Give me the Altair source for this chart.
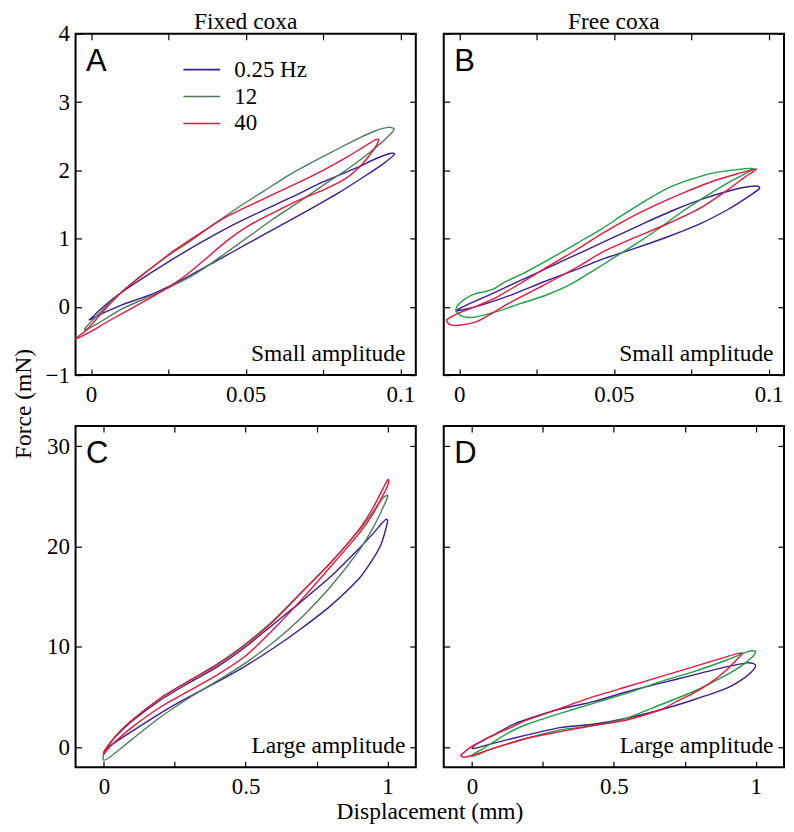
import altair as alt
import pandas as pd

SERIES = ["0.25 Hz", "12", "40"]
BLUE = "#3c1e8c"
GREEN_DULL = "#4d7d5d"
GREEN_BRIGHT = "#1f9e45"
RED = "#e6173c"

# ---------------- Panel A: fixed coxa, small amplitude ----------------
A_BLUE_X = [-0.0005, 0.004, 0.010, 0.020, 0.030, 0.040, 0.050, 0.060, 0.070, 0.080, 0.088, 0.094, 0.098,
            0.097, 0.092, 0.085, 0.075, 0.065, 0.055, 0.045, 0.035, 0.025, 0.015, 0.008, 0.003, 0.0005]
A_BLUE_Y = [-0.19, -0.09, 0.03, 0.19, 0.41, 0.66, 0.91, 1.16, 1.41, 1.67, 1.90, 2.08, 2.23,
            2.25, 2.17, 2.02, 1.83, 1.61, 1.40, 1.18, 0.93, 0.66, 0.37, 0.15, -0.04, -0.15]
A_GREEN_X = [-0.002, 0.002, 0.010, 0.020, 0.027, 0.035, 0.043, 0.051, 0.059, 0.067, 0.075, 0.083, 0.089, 0.094, 0.097,
             0.098, 0.096, 0.092, 0.087, 0.080, 0.072, 0.064, 0.056, 0.048, 0.040, 0.032, 0.024, 0.016, 0.009, 0.003, -0.001]
A_GREEN_Y = [-0.34, -0.25, -0.03, 0.17, 0.32, 0.52, 0.77, 1.03, 1.29, 1.53, 1.78, 2.02, 2.22, 2.41, 2.54,
             2.61, 2.63, 2.58, 2.48, 2.32, 2.13, 1.93, 1.70, 1.47, 1.22, 0.96, 0.72, 0.45, 0.18, -0.08, -0.27]
A_RED_X = [-0.005, 0.000, 0.006, 0.016, 0.023, 0.030, 0.037, 0.044, 0.051, 0.059, 0.067, 0.075, 0.082, 0.087, 0.091, 0.093,
           0.092, 0.088, 0.083, 0.075, 0.067, 0.059, 0.051, 0.043, 0.035, 0.027, 0.019, 0.011, 0.004, -0.001]
A_RED_Y = [-0.47, -0.36, -0.20, 0.05, 0.23, 0.44, 0.70, 0.97, 1.19, 1.38, 1.56, 1.71, 1.87, 2.06, 2.28, 2.44,
           2.45, 2.34, 2.20, 2.00, 1.82, 1.65, 1.48, 1.30, 1.07, 0.83, 0.55, 0.26, -0.06, -0.32]

# ---------------- Panel B: free coxa, small amplitude ----------------
B_BLUE_X = [-0.001, 0.006, 0.016, 0.027, 0.038, 0.047, 0.057, 0.067, 0.078, 0.087, 0.093, 0.097,
            0.096, 0.090, 0.080, 0.070, 0.060, 0.050, 0.040, 0.030, 0.020, 0.010, 0.003]
B_BLUE_Y = [-0.06, 0.01, 0.16, 0.36, 0.55, 0.71, 0.86, 1.02, 1.22, 1.43, 1.60, 1.73,
            1.77, 1.73, 1.60, 1.43, 1.23, 1.02, 0.81, 0.60, 0.39, 0.18, 0.04]
B_GREEN_X = [-0.001, 0.001, 0.005, 0.012, 0.020, 0.028, 0.036, 0.043, 0.050, 0.057, 0.064, 0.071, 0.079, 0.087, 0.095,
             0.090, 0.082, 0.075, 0.067, 0.060, 0.053, 0.046, 0.038, 0.030, 0.022, 0.015, 0.011, 0.008, 0.005, 0.002, -0.0005]
B_GREEN_Y = [-0.06, -0.14, -0.15, -0.07, 0.05, 0.17, 0.33, 0.52, 0.72, 0.92, 1.13, 1.36, 1.60, 1.82, 2.02,
             2.01, 1.96, 1.87, 1.73, 1.55, 1.35, 1.14, 0.93, 0.72, 0.52, 0.37, 0.26, 0.22, 0.19, 0.12, 0.02]
B_RED_X = [-0.004, -0.003, 0.000, 0.006, 0.016, 0.027, 0.038, 0.047, 0.057, 0.067, 0.078, 0.087, 0.092, 0.096,
           0.090, 0.082, 0.073, 0.064, 0.055, 0.046, 0.038, 0.029, 0.020, 0.012, 0.005, 0.000]
B_RED_Y = [-0.19, -0.26, -0.27, -0.21, 0.05, 0.31, 0.58, 0.82, 1.02, 1.21, 1.45, 1.72, 1.89, 2.02,
           1.95, 1.84, 1.68, 1.50, 1.30, 1.07, 0.84, 0.60, 0.35, 0.14, 0.00, -0.09]

# ---------------- Panel C: fixed coxa, large amplitude ----------------
C_BLUE_X = [0.0, 0.02, 0.1, 0.2, 0.3, 0.4, 0.5, 0.6, 0.7, 0.8, 0.9, 0.95, 0.98, 1.0,
            0.995, 0.98, 0.95, 0.9, 0.8, 0.7, 0.6, 0.5, 0.4, 0.3, 0.2, 0.1, 0.04, 0.005]
C_BLUE_Y = [-0.7, 0.1, 1.6, 3.4, 5.0, 6.5, 8.1, 9.9, 11.9, 14.1, 16.8, 18.8, 20.4, 22.4,
            22.7, 22.3, 21.3, 19.8, 17.0, 14.6, 12.3, 10.0, 8.0, 6.4, 4.7, 2.6, 1.0, -0.3]
C_GREEN_X = [0.0, 0.03, 0.1, 0.2, 0.3, 0.4, 0.5, 0.6, 0.7, 0.8, 0.9, 0.95, 0.98, 1.0,
             0.998, 0.98, 0.95, 0.9, 0.8, 0.7, 0.6, 0.5, 0.4, 0.3, 0.2, 0.1, 0.04, 0.0]
C_GREEN_Y = [-1.3, -0.8, 0.8, 3.0, 4.9, 6.6, 8.4, 10.5, 13.0, 16.0, 19.6, 21.9, 23.6, 24.9,
             25.1, 24.7, 23.5, 21.6, 18.4, 15.5, 12.7, 10.3, 8.3, 6.6, 4.9, 2.7, 1.0, -0.6]
C_RED_X = [0.0, 0.03, 0.1, 0.2, 0.3, 0.4, 0.5, 0.6, 0.7, 0.8, 0.9, 0.95, 1.0,
           1.0, 0.95, 0.9, 0.8, 0.7, 0.6, 0.5, 0.4, 0.3, 0.2, 0.1, 0.05, 0.005]
C_RED_Y = [-0.6, 0.3, 2.0, 4.0, 5.6, 7.2, 9.1, 11.8, 14.8, 18.0, 21.3, 23.3, 26.0,
           26.6, 23.9, 21.7, 18.4, 15.5, 12.6, 10.2, 8.2, 6.6, 4.9, 2.7, 1.4, -0.2]

# ---------------- Panel D: free coxa, large amplitude ----------------
D_BLUE_X = [0.0, 0.02, 0.077, 0.194, 0.311, 0.428, 0.545, 0.662, 0.779, 0.896, 0.95, 0.985, 1.0,
            0.99, 0.97, 0.896, 0.779, 0.662, 0.545, 0.428, 0.311, 0.194, 0.136, 0.077, 0.042, 0.01]
D_BLUE_Y = [-0.15, -0.05, 0.4, 1.22, 1.95, 2.28, 2.88, 3.7, 4.7, 5.85, 6.7, 7.5, 8.1,
            8.35, 8.4, 8.0, 7.18, 6.35, 5.52, 4.53, 3.8, 2.78, 2.15, 1.22, 0.73, 0.2]
D_GREEN_X = [0.0, 0.02, 0.077, 0.194, 0.311, 0.428, 0.545, 0.662, 0.779, 0.896, 0.95, 0.985, 1.0,
             0.99, 0.97, 0.896, 0.779, 0.662, 0.545, 0.428, 0.311, 0.194, 0.136, 0.077, 0.042, 0.01]
D_GREEN_Y = [-0.93, -0.75, -0.1, 0.89, 1.72, 2.15, 2.88, 4.2, 5.52, 7.18, 8.1, 8.9, 9.5,
             9.6, 9.5, 8.66, 7.5, 6.51, 5.36, 4.37, 3.37, 2.28, 1.55, 0.56, -0.1, -0.6]
D_RED_X = [-0.04, -0.028, 0.007, 0.077, 0.194, 0.311, 0.428, 0.545, 0.662, 0.72, 0.779, 0.837, 0.896, 0.931, 0.954,
           0.94, 0.896, 0.779, 0.662, 0.545, 0.428, 0.311, 0.194, 0.136, 0.077, 0.03, -0.005, -0.028]
D_RED_Y = [-0.83, -1.0, -0.76, -0.1, 0.89, 1.55, 2.15, 2.71, 3.7, 4.53, 5.36, 6.35, 7.67, 8.66, 9.33,
           9.35, 9.0, 8.0, 7.0, 6.02, 5.03, 3.87, 2.71, 1.95, 1.22, 0.55, 0.0, -0.5]

# ---------------- axes definitions ----------------
A_XDOM, A_YDOM = [-0.005, 0.105], [-1, 4]
C_XDOM, C_YDOM = [-0.1, 1.1], [-2, 32]
SMALL_XTICKS = [0, 0.025, 0.05, 0.075, 0.1]
SMALL_XLABELS = [0, 0.05, 0.1]
SMALL_YTICKS = [-1, 0, 1, 2, 3, 4]
LARGE_XTICKS = [0, 0.25, 0.5, 0.75, 1]
LARGE_XLABELS = [0, 0.5, 1]
LARGE_YTICKS = [0, 10, 20, 30]

SERIF = "Liberation Serif"
SANS = "Liberation Sans"
FS = 23
W, H = 341, 342


def make_df(xs_list, ys_list):
    rows = []
    for s, xs, ys in zip(SERIES, xs_list, ys_list):
        for i, (x, y) in enumerate(zip(xs, ys)):
            rows.append({"series": s, "i": i, "x": x, "y": y})
    return pd.DataFrame(rows)


def text_layer(txt, font, size, align, x, y):
    return alt.Chart(pd.DataFrame({"t": [txt]})).mark_text(
        font=font, fontSize=size, align=align, baseline="alphabetic", color="black"
    ).encode(x=alt.value(x), y=alt.value(y), text="t:N")


def panel(df, xdom, ydom, xticks, xlabels, yticks, ylabels_on, colors, letter, note,
          title=None, legend=False):
    sx = alt.Scale(domain=xdom, nice=False, zero=False)
    sy = alt.Scale(domain=ydom, nice=False, zero=False)
    cond = " || ".join(f"datum.value == {v}" for v in xlabels)
    common = dict(grid=False, domain=False, tickSize=6, tickWidth=1.2, tickColor="black",
                  offset=-6, title=None, labelFlush=False, labelOverlap=False, labelBound=False)
    lab = dict(labelFont=SERIF, labelFontSize=FS, labelColor="black")
    ax_b = alt.Axis(orient="bottom", values=xticks, format="~r",
                    labelExpr=f"({cond}) ? datum.label : ''", labelPadding=8, **lab, **common)
    if ylabels_on:
        ax_l = alt.Axis(orient="left", values=yticks, format="~r", labelPadding=6.2, **lab, **common)
    else:
        ax_l = alt.Axis(orient="left", values=yticks, labels=False, **common)
    ax_t = alt.Axis(orient="top", values=xticks, labels=False, **common)
    ax_r = alt.Axis(orient="right", values=yticks, labels=False, **common)

    if legend:
        leg = alt.Legend(orient="none", legendX=107, legendY=22.5, title=None,
                         symbolType="stroke", symbolSize=1350, symbolStrokeWidth=1.6,
                         labelFont=SERIF, labelFontSize=FS, labelColor="black",
                         labelOffset=13, rowPadding=0, clipHeight=26.7, padding=0)
    else:
        leg = None

    base = alt.Chart(df)
    lines = base.mark_line(interpolate="cardinal-closed", tension=0.3, strokeWidth=1.4).encode(
        x=alt.X("x:Q", scale=sx, axis=ax_b),
        y=alt.Y("y:Q", scale=sy, axis=ax_l),
        color=alt.Color("series:N", scale=alt.Scale(domain=SERIES, range=colors), legend=leg),
        detail="series:N",
        order="i:Q",
    )
    mirror = base.mark_line(strokeOpacity=0).encode(
        x=alt.X("x:Q", scale=sx, axis=ax_t),
        y=alt.Y("y:Q", scale=sy, axis=ax_r),
        detail="series:N",
        order="i:Q",
    )
    layers = [lines, mirror,
              text_layer(letter, SANS, 31, "left", 10.5, 37),
              text_layer(note, SERIF, 23.5, "right", 330.5, 327.5)]
    if title:
        layers.append(text_layer(title, SERIF, 23.5, "center", W / 2, -5))

    return alt.layer(*layers).resolve_axis(
        x="independent", y="independent").properties(width=W, height=H)


pA = panel(make_df([A_BLUE_X, A_GREEN_X, A_RED_X], [A_BLUE_Y, A_GREEN_Y, A_RED_Y]),
           A_XDOM, A_YDOM, SMALL_XTICKS, SMALL_XLABELS, SMALL_YTICKS, True,
           [BLUE, GREEN_DULL, RED], "A", "Small amplitude", title="Fixed coxa", legend=True)
pB = panel(make_df([B_BLUE_X, B_GREEN_X, B_RED_X], [B_BLUE_Y, B_GREEN_Y, B_RED_Y]),
           A_XDOM, A_YDOM, SMALL_XTICKS, SMALL_XLABELS, SMALL_YTICKS, False,
           [BLUE, GREEN_BRIGHT, RED], "B", "Small amplitude", title="Free coxa")
pC = panel(make_df([C_BLUE_X, C_GREEN_X, C_RED_X], [C_BLUE_Y, C_GREEN_Y, C_RED_Y]),
           C_XDOM, C_YDOM, LARGE_XTICKS, LARGE_XLABELS, LARGE_YTICKS, True,
           [BLUE, GREEN_DULL, RED], "C", "Large amplitude")
pD = panel(make_df([D_BLUE_X, D_GREEN_X, D_RED_X], [D_BLUE_Y, D_GREEN_Y, D_RED_Y]),
           C_XDOM, C_YDOM, LARGE_XTICKS, LARGE_XLABELS, LARGE_YTICKS, False,
           [BLUE, GREEN_BRIGHT, RED], "D", "Large amplitude")

IND = dict(x="independent", y="independent", color="independent")
row1 = alt.hconcat(pA, pB, spacing=24).resolve_scale(**IND).resolve_axis(x="independent", y="independent")
row2 = alt.hconcat(pC, pD, spacing=24).resolve_scale(**IND).resolve_axis(x="independent", y="independent")
grid = alt.vconcat(row1, row2, spacing=17).resolve_scale(**IND).resolve_axis(
    x="independent", y="independent").properties(
    title=alt.TitleParams("Force (mN)", orient="left", anchor="middle", font=SERIF, fontSize=23.5,
                          fontWeight="normal", color="black", offset=8))
chart = alt.vconcat(grid).resolve_scale(**IND).properties(
    title=alt.TitleParams("Displacement (mm)", orient="bottom", anchor="middle", font=SERIF, fontSize=23.5,
                          fontWeight="normal", color="black", offset=0.5, dx=31),
    padding={"left": 3.7, "top": 0, "right": 0, "bottom": 0},
    background="white",
).configure_view(stroke="black", strokeWidth=2)

chart.save("out.html", embed_options={"renderer": "svg", "actions": False})
